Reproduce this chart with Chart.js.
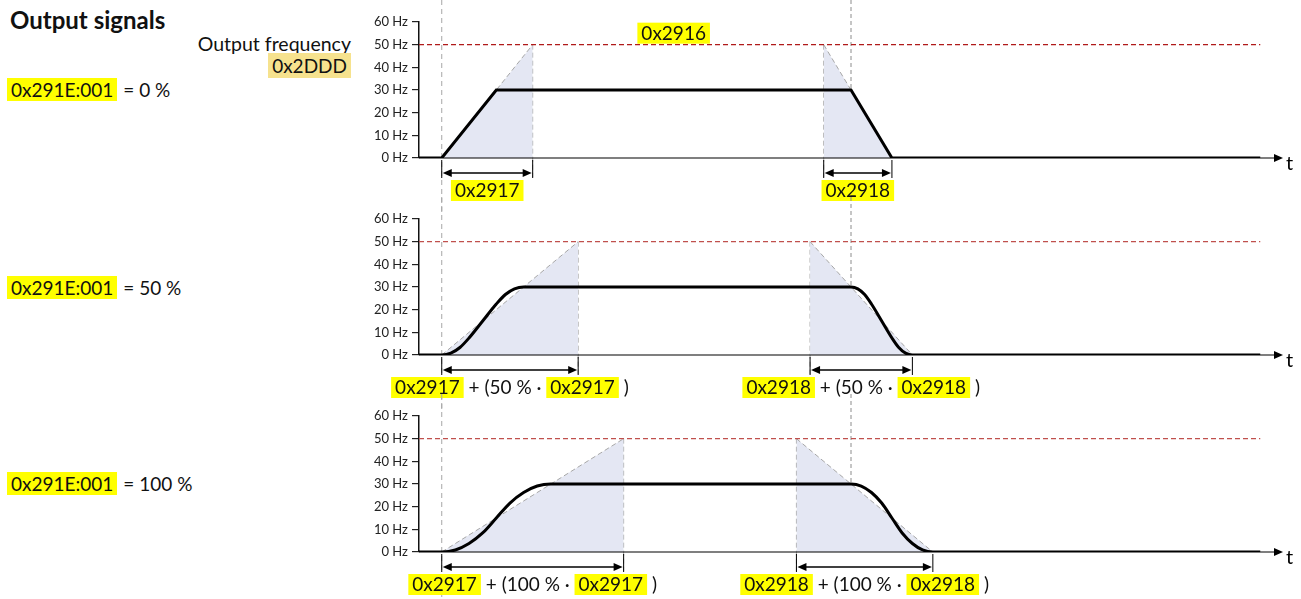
<!DOCTYPE html>
<html>
<head>
<meta charset="utf-8">
<script src="https://cdn.jsdelivr.net/npm/chart.js@4.4.1/dist/chart.umd.min.js"></script>
<style>
  html, body { margin: 0; padding: 0; background: #fff; }
  body { width: 1301px; height: 599px; position: relative; overflow: hidden; font-family: Lato, "Open Sans", sans-serif; color: #111; }
  canvas { position: absolute; left: 0; }
  .txt { position: absolute; font-size: 19px; white-space: nowrap; line-height: 20px; }
  .hl { background: #ffff00; padding: 0 4px; margin-right: 6px; }
  .hl2 { background: #f6e28e; padding: 1px 4px; }
</style>
</head>
<body>
<div class="txt" style="left:10px; top:7px; font-weight:bold; font-size:24px; line-height:26px;">Output signals</div>
<div class="txt" style="right:950px; top:34px; text-align:right; font-size:19.5px;">Output frequency</div>
<div class="txt" style="right:950px; top:56px; text-align:right;"><span class="hl2">0x2DDD</span></div>
<div class="txt" style="left:7px; top:80px;"><span class="hl">0x291E:001</span>= 0 %</div>
<div class="txt" style="left:7px; top:278px;"><span class="hl">0x291E:001</span>= 50 %</div>
<div class="txt" style="left:7px; top:474px;"><span class="hl">0x291E:001</span>= 100 %</div>

<canvas id="c0" width="1301" height="212" style="top:0px"></canvas>
<canvas id="c1" width="1301" height="212" style="top:197px"></canvas>
<canvas id="c2" width="1301" height="205" style="top:394px"></canvas>

<script>
// y axis
const hzTicks = [0, 10, 20, 30, 40, 50, 60];
const maxHz = 50;      // 0x2916
const tEnd = 37;       // end of drawn signal
const tAxis = 38;      // end of time axis (arrow tip)

// output frequency, 0 % rounding
const outT0  = [0, 1, 3.4, 19, 20.8, 37];
const outHz0 = [0, 0, 30, 30, 0, 0];
// output frequency, 50 % rounding
const outT1  = [0, 1, 1.4, 1.8, 2.2, 2.8, 3.4, 3.8, 4.2, 4.6, 19, 19.3, 19.6, 19.9, 20.35, 20.8, 21.1, 21.4, 21.7, 37];
const outHz1 = [0, 0, 0.8, 3.3, 7.5, 15, 22.5, 26.7, 29.2, 30, 30, 29.2, 26.7, 22.5, 15, 7.5, 3.3, 0.8, 0, 0];
// output frequency, 100 % rounding
const outT2  = [0, 1, 1.6, 2.2, 2.8, 3.4, 4.0, 4.6, 5.2, 5.8, 19, 19.45, 19.9, 20.35, 20.8, 21.25, 21.7, 22.15, 22.6, 37];
const outHz2 = [0, 0, 0.9, 3.75, 8.4, 15, 21.6, 26.25, 29.1, 30, 30, 29.1, 26.25, 21.6, 15, 8.4, 3.75, 0.9, 0, 0];

// ramp triangles (time where ramp starts / ends)
const accelFrom = [1, 1, 1];
const accelTo   = [5, 7, 9];
const decelFrom = [17.8, 17.2, 16.6];
const decelTo   = [20.8, 21.7, 22.6];
const decelStart = [19, 19, 19];

const accelLabels = [
  [['0x2917', true]],
  [['0x2917', true], [' + (50 % · ', false], ['0x2917', true], [' )', false]],
  [['0x2917', true], [' + (100 % · ', false], ['0x2917', true], [' )', false]]
];
const decelLabels = [
  [['0x2918', true]],
  [['0x2918', true], [' + (50 % · ', false], ['0x2918', true], [' )', false]],
  [['0x2918', true], [' + (100 % · ', false], ['0x2918', true], [' )', false]]
];

const series = [[outT0, outHz0], [outT1, outHz1], [outT2, outHz2]];
const redCol = ['#b01a1a', '#c0504d', '#c0504d'];
const LABEL_FONT = '19px Lato, "Open Sans", sans-serif';

function pts(ts, vs) { return ts.map((t, i) => ({ x: t, y: vs[i] })); }

function dashLine(ctx, x1, y1, x2, y2, col, dash) {
  ctx.save();
  ctx.strokeStyle = col; ctx.lineWidth = 1; ctx.setLineDash(dash);
  ctx.beginPath(); ctx.moveTo(x1, y1); ctx.lineTo(x2, y2); ctx.stroke();
  ctx.restore();
}

function arrowHead(ctx, x, y, dir) {
  ctx.beginPath();
  ctx.moveTo(x, y);
  ctx.lineTo(x - dir * 9, y - 4);
  ctx.lineTo(x - dir * 9, y + 4);
  ctx.closePath();
  ctx.fill();
}

function labelGroup(ctx, parts, cx, cy) {
  ctx.save();
  ctx.font = LABEL_FONT;
  ctx.textBaseline = 'middle';
  const pad = 4;
  const widths = parts.map(p => ctx.measureText(p[0]).width + (p[1] ? pad * 2 : 0));
  let x = cx - widths.reduce((a, b) => a + b, 0) / 2;
  parts.forEach((p, i) => {
    if (p[1]) {
      ctx.fillStyle = '#ffff00';
      ctx.fillRect(x, cy - 10, widths[i], 21);
      ctx.fillStyle = '#111';
      ctx.fillText(p[0], x + pad, cy + 1);
    } else {
      ctx.fillStyle = '#111';
      ctx.fillText(p[0], x, cy + 1);
    }
    x += widths[i];
  });
  ctx.restore();
}

function makeChart(k) {
  const decoPlugin = {
    id: 'deco' + k,
    beforeDatasetsDraw(chart) {
      const ctx = chart.ctx, xs = chart.scales.x, ys = chart.scales.y;
      const y0 = ys.getPixelForValue(0);
      const y30 = ys.getPixelForValue(30);
      const yMax = ys.getPixelForValue(maxHz);
      const yArr = y0 + 15;
      // long guide lines
      dashLine(ctx, xs.getPixelForValue(accelFrom[k]), 0, xs.getPixelForValue(accelFrom[k]), chart.height, '#a6a6a6', [5, 4]);
      dashLine(ctx, xs.getPixelForValue(decelStart[k]), 0, xs.getPixelForValue(decelStart[k]), y30, '#8c8c8c', [4, 3]);
      // triangle edges
      dashLine(ctx, xs.getPixelForValue(accelTo[k]), yMax, xs.getPixelForValue(accelTo[k]), yArr + 4, '#a6a6a6', [5, 3]);
      dashLine(ctx, xs.getPixelForValue(decelFrom[k]), yMax, xs.getPixelForValue(decelFrom[k]), yArr + 4, '#a6a6a6', [5, 3]);
    },
    afterDatasetsDraw(chart) {
      const ctx = chart.ctx, xs = chart.scales.x, ys = chart.scales.y;
      const y0 = ys.getPixelForValue(0);
      const yArr = y0 + 15;
      ctx.save();
      // time axis
      const xL = xs.getPixelForValue(0), xR = xs.getPixelForValue(tAxis);
      ctx.strokeStyle = '#000'; ctx.fillStyle = '#000'; ctx.lineWidth = 1.2;
      ctx.beginPath(); ctx.moveTo(xL, y0); ctx.lineTo(xR - 8, y0); ctx.stroke();
      arrowHead(ctx, xR, y0, 1);
      ctx.font = '20px Lato, "Open Sans", sans-serif';
      ctx.textBaseline = 'middle';
      ctx.fillText('t', xR + 3, y0 + 6);
      // dimension arrows
      [[accelFrom[k], accelTo[k]], [decelFrom[k], decelTo[k]]].forEach(([a, b]) => {
        const xa = xs.getPixelForValue(a), xb = xs.getPixelForValue(b);
        ctx.lineWidth = 1.3;
        ctx.beginPath(); ctx.moveTo(xa + 6, yArr); ctx.lineTo(xb - 6, yArr); ctx.stroke();
        ctx.lineWidth = 1;
        ctx.beginPath(); ctx.moveTo(xa, y0 + 2); ctx.lineTo(xa, yArr + 5);
        ctx.moveTo(xb, y0 + 2); ctx.lineTo(xb, yArr + 5); ctx.stroke();
        arrowHead(ctx, xa + 1, yArr, -1);
        arrowHead(ctx, xb - 1, yArr, 1);
      });
      ctx.restore();
      labelGroup(ctx, accelLabels[k], xs.getPixelForValue((accelFrom[k] + accelTo[k]) / 2), y0 + 32);
      labelGroup(ctx, decelLabels[k], xs.getPixelForValue((decelFrom[k] + decelTo[k]) / 2), y0 + 32);
      if (k === 0) {
        labelGroup(ctx, [['0x2916', true]], xs.getPixelForValue(11.2), ys.getPixelForValue(maxHz) - 12);
      }
    }
  };

  const [ts, vs] = series[k];
  const h = document.getElementById('c' + k).height;
  return new Chart(document.getElementById('c' + k), {
    type: 'line',
    data: {
      datasets: [
        {
          data: pts(ts, vs),
          borderColor: '#000',
          borderWidth: 3,
          pointRadius: 0,
          fill: false,
          cubicInterpolationMode: k === 0 ? 'default' : 'monotone',
          tension: 0,
          order: 0
        },
        {
          data: pts([0, tEnd], [maxHz, maxHz]),
          borderColor: redCol[k],
          borderWidth: 1.3,
          borderDash: [5, 3],
          pointRadius: 0,
          fill: false,
          order: 1
        },
        {
          data: pts([accelFrom[k], accelTo[k]], [0, maxHz]),
          borderColor: '#a6a6a6',
          borderWidth: 1,
          borderDash: [5, 3],
          backgroundColor: '#e4e7f3',
          pointRadius: 0,
          fill: 'origin',
          order: 2
        },
        {
          data: pts([decelFrom[k], decelTo[k]], [maxHz, 0]),
          borderColor: '#a6a6a6',
          borderWidth: 1,
          borderDash: [5, 3],
          backgroundColor: '#e4e7f3',
          pointRadius: 0,
          fill: 'origin',
          order: 3
        }
      ]
    },
    options: {
      responsive: false,
      animation: false,
      devicePixelRatio: 1,
      layout: { padding: { left: 0, right: 18, top: 22, bottom: h - 158 } },
      plugins: { legend: { display: false }, tooltip: { enabled: false } },
      scales: {
        x: { type: 'linear', min: 0, max: tAxis, display: false },
        y: {
          min: 0, max: 60,
          afterFit(s) { s.width = 419; },
          afterBuildTicks(s) { s.ticks = hzTicks.map(v => ({ value: v })); },
          ticks: {
            padding: 4,
            color: '#222',
            font: { family: 'Lato', size: 13 },
            callback: v => v + ' Hz'
          },
          grid: { drawOnChartArea: false, drawTicks: true, tickLength: 7, color: '#222', lineWidth: 1.2 },
          border: { display: true, color: '#111', width: 1.5 }
        }
      }
    },
    plugins: [decoPlugin]
  });
}

[0, 1, 2].forEach(makeChart);
</script>
</body>
</html>
